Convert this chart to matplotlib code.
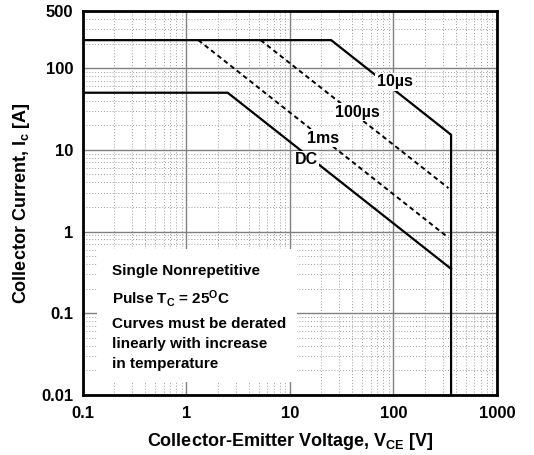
import matplotlib
matplotlib.use("Agg")
import matplotlib.pyplot as plt
from matplotlib.patches import Rectangle
from matplotlib.ticker import LogLocator, NullFormatter, FixedLocator, FixedFormatter

plt.rcParams['font.family'] = ['Liberation Sans', 'DejaVu Sans']
plt.rcParams['font.weight'] = 'bold'
plt.rcParams['mathtext.fontset'] = 'custom'
plt.rcParams['mathtext.rm'] = 'Liberation Sans:bold'
plt.rcParams['mathtext.bf'] = 'Liberation Sans:bold'
plt.rcParams['mathtext.it'] = 'Liberation Sans:bold'
plt.rcParams['mathtext.default'] = 'bf'

# Data
v_10us = [0.1, 25, 360, 360]
i_10us = [220, 220, 15.3, 0.01]
v_100us = [5.2, 340]
i_100us = [220, 3.4]
v_1ms = [1.3, 340]
i_1ms = [220, 0.84]
v_dc = [0.1, 2.5, 360]
i_dc = [50, 50, 0.35]

labels = ["10\u00b5s", "100\u00b5s", "1ms", "DC"]
label_v = [103, 45, 20.7, 14.3]
label_i = [68, 29, 13.9, 7.55]

xticks = [0.1, 1, 10, 100, 1000]
xticklabels = ["0.1", "1", "10", "100", "1000"]
yticks = [0.01, 0.1, 1, 10, 100, 500]
yticklabels = ["0.01", "0.1", "1", "10", "100", "500"]

note_lines = ["Single Nonrepetitive",
              r"Pulse T$_\mathbf{C}$ = 25$^\mathbf{O}$C",
              "Curves must be derated",
              "linearly with increase",
              "in temperature"]

fig = plt.figure(figsize=(5.34, 4.55), dpi=100)
ax = fig.add_axes([0.1554, 0.1319, 0.7753, 0.8439])
ax.set_xscale('log')
ax.set_yscale('log')
ax.set_xlim(0.1, 1000)
ax.set_ylim(0.01, 500)

ax.xaxis.set_major_locator(FixedLocator(xticks))
ax.xaxis.set_major_formatter(FixedFormatter(xticklabels))
ax.yaxis.set_major_locator(FixedLocator(yticks))
ax.yaxis.set_major_formatter(FixedFormatter(yticklabels))
ax.xaxis.set_minor_locator(LogLocator(base=10, subs=range(2, 10)))
ax.yaxis.set_minor_locator(LogLocator(base=10, subs=range(2, 10)))
ax.xaxis.set_minor_formatter(NullFormatter())
ax.yaxis.set_minor_formatter(NullFormatter())

ax.set_axisbelow(True)
ax.grid(which='major', color='#808080', lw=1.0, ls='-')
ax.grid(which='minor', color='#9a9a9a', lw=0.7, ls=(0, (1, 2)))
ax.tick_params(which='both', length=0)
ax.tick_params(axis='x', pad=8, labelsize=12)
ax.tick_params(axis='y', pad=7, labelsize=12)
for lab in ax.get_xticklabels() + ax.get_yticklabels():
    lab.set_fontweight('bold')

for s in ax.spines.values():
    s.set_linewidth(2.0)
    s.set_color('black')

# white box behind the note
ax.add_patch(Rectangle((0.034, 0.034), 0.483, 0.346, transform=ax.transAxes,
                       facecolor='white', edgecolor='none', zorder=1))

lw = 1.6
ax.plot(v_10us, i_10us, color='black', lw=lw, zorder=3, solid_joinstyle='miter')
ax.plot(v_100us, i_100us, color='black', lw=1.4, ls=(0, (2.4, 1.8)), zorder=3)
ax.plot(v_1ms, i_1ms, color='black', lw=1.4, ls=(0, (2.4, 1.8)), zorder=3)
ax.plot(v_dc, i_dc, color='black', lw=lw, zorder=3, solid_joinstyle='miter')

for t, xv, yv in zip(labels, label_v, label_i):
    ax.text(xv, yv, t, ha='center', va='center', fontsize=11.5, fontweight='bold',
            zorder=4, bbox=dict(boxstyle='square,pad=0.1', fc='white', ec='none'))

note_y = [0.323, 0.252, 0.184, 0.132, 0.080]
for t, yy in zip(note_lines, note_y):
    ax.text(0.0700, yy, t, transform=ax.transAxes, ha='left', va='center',
            fontsize=11, fontweight='bold', zorder=4)

ax.set_xlabel(r"Collector-Emitter Voltage, V$_{\mathbf{CE}}$ [V]", fontsize=13, fontweight='bold')
ax.set_ylabel(r"Collector Current, I$_\mathbf{c}$ [A]", fontsize=13, fontweight='bold')
ax.xaxis.set_label_coords(0.5, -0.095)
ax.yaxis.set_label_coords(-0.123, 0.5)

fig.savefig("out.png", dpi=100)
